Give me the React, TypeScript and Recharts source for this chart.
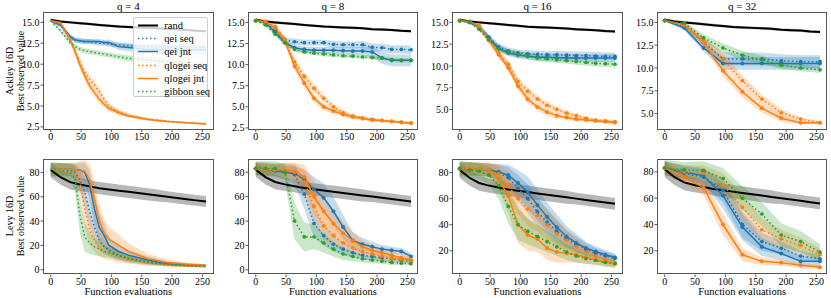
import { ComposedChart, Line, Area, XAxis, YAxis } from "recharts";

const FONT = '"Liberation Serif", "DejaVu Serif", serif';

const NAMES = ["rand", "qei seq", "qei jnt", "qlogei seq", "qlogei jnt", "gibbon seq"];
const COLORS = ["#000000", "#1f77b4", "#1f77b4", "#ff7f0e", "#ff7f0e", "#2ca02c"];
const DOTTED = [false, true, false, true, false, true];

const X4 = [0, 16, 32, 40, 48, 56, 64, 72, 80, 88, 96, 112, 128, 160, 192, 224, 256];
const X16 = [0, 16, 32, 48, 64, 80, 96, 112, 128, 144, 160, 176, 192, 208, 224, 240, 256];
const X32 = [0, 32, 64, 96, 128, 160, 192, 224, 256];
const X_TICKS = [0, 50, 100, 150, 200, 250];
const ACK_TICKS_A = [2.5, 5, 7.5, 10, 12.5, 15];
const ACK_TICKS_B = [5, 7.5, 10, 12.5, 15];
const LEVY_TICKS_A = [0, 20, 40, 60, 80];
const LEVY_TICKS_B = [20, 40, 60, 80];

// random search baseline (same in every column)
const ackRand = [15.3, 15.1, 15.0, 14.9, 14.8, 14.7, 14.6, 14.5, 14.45, 14.4, 14.35, 14.3, 14.2, 14.15, 14.1, 14.0, 13.95];
const ackRandSd = [0.15, 0.15, 0.15, 0.15, 0.15, 0.15, 0.15, 0.15, 0.15, 0.15, 0.15, 0.15, 0.15, 0.15, 0.15, 0.15, 0.15];
const levyRand = [82, 76, 72, 70, 68.5, 67, 66, 65, 64, 63, 62, 61, 60, 59, 58, 57, 56];
const levyRandSd = [6, 6, 6, 5.5, 5, 5, 5, 5, 5, 5, 5, 5, 4.5, 4.5, 4.5, 4.5, 4.5];

// Ackley q=4 (X4)
const a4QeiSeq = [15.2, 14.6, 13.2, 12.9, 12.8, 12.7, 12.7, 12.6, 12.5, 12.5, 12.4, 12.3, 12.2, 12.1, 12.1, 12.1, 12.0];
const a4QeiSeqSd = [0.15, 0.2, 0.3, 0.3, 0.3, 0.3, 0.3, 0.3, 0.3, 0.3, 0.3, 0.3, 0.3, 0.3, 0.3, 0.3, 0.3];
const a4QeiJnt = [15.2, 14.7, 13.3, 12.9, 12.8, 12.7, 12.7, 12.7, 12.7, 12.6, 12.6, 12.1, 12.0, 11.8, 11.7, 11.7, 11.7];
const a4QeiJntSd = [0.15, 0.2, 0.3, 0.3, 0.3, 0.3, 0.3, 0.3, 0.3, 0.3, 0.35, 0.4, 0.45, 0.5, 0.5, 0.5, 0.5];
const a4QlogeiSeq = [15.2, 14.8, 12.8, 11.6, 10.3, 9.0, 8.2, 7.5, 6.7, 5.8, 5.0, 4.3, 3.9, 3.45, 3.2, 3.0, 2.9];
const a4QlogeiSeqSd = [0.1, 0.2, 0.3, 0.4, 0.45, 0.5, 0.5, 0.5, 0.5, 0.4, 0.35, 0.3, 0.2, 0.15, 0.1, 0.1, 0.1];
const a4QlogeiJnt = [15.2, 15.0, 13.0, 11.5, 9.9, 8.6, 7.4, 6.6, 5.8, 5.2, 4.7, 4.2, 3.8, 3.4, 3.15, 3.0, 2.85];
const a4QlogeiJntSd = [0.1, 0.2, 0.3, 0.4, 0.45, 0.5, 0.5, 0.5, 0.5, 0.4, 0.35, 0.3, 0.2, 0.15, 0.1, 0.1, 0.1];
const a4Gibbon = [15.2, 14.0, 12.6, 12.1, 11.8, 11.6, 11.5, 11.4, 11.3, 11.2, 11.1, 10.9, 10.7, 10.5, 10.3, 10.0, 9.8];
const a4GibbonSd = [0.1, 0.2, 0.3, 0.3, 0.3, 0.3, 0.3, 0.3, 0.3, 0.3, 0.3, 0.3, 0.35, 0.35, 0.4, 0.4, 0.4];

// Ackley q=8 (X16)
const a8QeiSeq = [15.2, 15.0, 14.0, 12.9, 12.7, 12.6, 12.6, 12.6, 12.4, 12.35, 12.35, 12.35, 12.05, 12.0, 11.8, 11.8, 11.75];
const a8QeiSeqSd = [0.1, 0.15, 0.3, 0.35, 0.35, 0.35, 0.35, 0.35, 0.4, 0.4, 0.4, 0.45, 0.45, 0.5, 0.5, 0.5, 0.5];
const a8QeiJnt = [15.2, 15.0, 13.8, 12.6, 12.0, 11.8, 11.7, 11.7, 11.7, 11.65, 11.6, 11.6, 11.5, 10.8, 10.5, 10.5, 10.5];
const a8QeiJntSd = [0.1, 0.15, 0.3, 0.35, 0.35, 0.35, 0.4, 0.4, 0.4, 0.4, 0.45, 0.5, 0.6, 0.7, 0.7, 0.7, 0.7];
const a8QlogeiSeq = [15.2, 15.1, 14.5, 13.0, 10.3, 8.6, 7.2, 6.0, 5.0, 4.3, 3.9, 3.7, 3.5, 3.4, 3.3, 3.2, 3.1];
const a8QlogeiSeqSd = [0.1, 0.15, 0.3, 0.4, 0.5, 0.5, 0.5, 0.4, 0.35, 0.3, 0.25, 0.2, 0.2, 0.15, 0.15, 0.15, 0.15];
const a8QlogeiJnt = [15.2, 15.1, 14.3, 12.8, 9.8, 7.8, 6.0, 5.0, 4.5, 4.1, 3.8, 3.6, 3.45, 3.35, 3.25, 3.15, 3.05];
const a8QlogeiJntSd = [0.1, 0.15, 0.3, 0.4, 0.5, 0.5, 0.5, 0.4, 0.35, 0.3, 0.25, 0.2, 0.2, 0.15, 0.15, 0.15, 0.15];
const a8Gibbon = [15.2, 14.7, 13.6, 12.6, 11.8, 11.5, 11.35, 11.25, 11.15, 11.05, 11.0, 10.9, 10.85, 10.75, 10.6, 10.5, 10.5];
const a8GibbonSd = [0.1, 0.2, 0.25, 0.25, 0.25, 0.25, 0.25, 0.25, 0.25, 0.25, 0.25, 0.25, 0.25, 0.25, 0.25, 0.25, 0.25];

// Ackley q=16 (X16)
const a16QeiSeq = [15.2, 15.0, 14.5, 13.3, 12.2, 11.7, 11.5, 11.4, 11.35, 11.3, 11.3, 11.25, 11.2, 11.2, 11.15, 11.1, 11.1];
const a16QeiSeqSd = [0.1, 0.15, 0.25, 0.35, 0.4, 0.4, 0.4, 0.4, 0.4, 0.4, 0.45, 0.45, 0.45, 0.45, 0.45, 0.45, 0.45];
const a16QeiJnt = [15.2, 15.0, 14.5, 13.2, 12.0, 11.5, 11.25, 11.1, 11.0, 11.0, 10.95, 10.95, 10.9, 10.9, 10.9, 10.9, 10.9];
const a16QeiJntSd = [0.1, 0.15, 0.25, 0.35, 0.4, 0.4, 0.4, 0.4, 0.4, 0.4, 0.45, 0.45, 0.45, 0.45, 0.45, 0.45, 0.45];
const a16QlogeiSeq = [15.2, 15.1, 14.4, 12.9, 11.5, 10.2, 8.2, 7.1, 6.2, 5.5, 5.0, 4.6, 4.3, 4.0, 3.8, 3.7, 3.6];
const a16QlogeiSeqSd = [0.1, 0.15, 0.25, 0.35, 0.4, 0.45, 0.5, 0.5, 0.45, 0.4, 0.35, 0.3, 0.25, 0.2, 0.2, 0.2, 0.2];
const a16QlogeiJnt = [15.2, 15.1, 14.6, 13.0, 11.3, 9.8, 7.7, 6.2, 5.3, 4.7, 4.3, 4.1, 3.9, 3.8, 3.7, 3.6, 3.5];
const a16QlogeiJntSd = [0.1, 0.15, 0.25, 0.35, 0.4, 0.45, 0.5, 0.5, 0.45, 0.4, 0.35, 0.3, 0.25, 0.2, 0.2, 0.2, 0.2];
const a16Gibbon = [15.2, 15.1, 14.2, 13.0, 12.0, 11.6, 11.3, 11.2, 10.9, 10.8, 10.7, 10.6, 10.5, 10.4, 10.3, 10.25, 10.2];
const a16GibbonSd = [0.1, 0.15, 0.25, 0.3, 0.35, 0.35, 0.35, 0.35, 0.35, 0.35, 0.35, 0.35, 0.35, 0.35, 0.35, 0.35, 0.35];

// Ackley q=32 (X32)
const a32QeiSeq = [15.2, 14.6, 12.8, 11.0, 11.0, 11.0, 10.8, 10.7, 10.7];
const a32QeiSeqSd = [0.1, 0.25, 0.4, 0.7, 0.7, 0.7, 0.7, 0.7, 0.7];
const a32QeiJnt = [15.2, 14.4, 12.2, 10.5, 10.5, 10.5, 10.5, 10.5, 10.5];
const a32QeiJntSd = [0.1, 0.25, 0.4, 0.7, 0.7, 0.7, 0.7, 0.7, 0.7];
const a32QlogeiSeq = [15.2, 14.9, 13.0, 11.0, 8.6, 6.6, 5.1, 4.4, 4.0];
const a32QlogeiSeqSd = [0.1, 0.2, 0.4, 0.6, 0.6, 0.5, 0.4, 0.2, 0.15];
const a32QlogeiJnt = [15.2, 14.7, 12.8, 9.7, 7.4, 5.6, 4.5, 4.0, 4.0];
const a32QlogeiJntSd = [0.1, 0.2, 0.4, 0.6, 0.6, 0.5, 0.4, 0.2, 0.15];
const a32Gibbon = [15.2, 14.9, 13.3, 12.2, 11.4, 10.9, 10.3, 10.0, 9.8];
const a32GibbonSd = [0.1, 0.2, 0.4, 0.5, 0.5, 0.45, 0.4, 0.35, 0.35];

// Levy q=4 (X4)
const l4QeiSeq = [82.5, 82.5, 82, 80, 74, 64, 48, 35, 24, 19, 16, 12, 9.5, 6.5, 4.5, 3.5, 3];
const l4QeiSeqSd = [5, 5, 5, 6, 9, 12, 13, 11, 8, 6, 5, 4, 3, 2, 1.5, 1, 1];
const l4QeiJnt = [82.5, 82.5, 82.5, 82, 82, 80, 70, 50, 35, 28, 20, 15, 12, 8, 5, 4, 3.5];
const l4QeiJntSd = [5, 5, 5, 5, 6, 8, 12, 14, 12, 10, 7, 5, 4, 3, 2, 1.5, 1];
const l4QlogeiSeq = [82.5, 82.5, 82.5, 82, 72, 50, 33, 24, 18, 15, 13, 10, 8, 5.5, 4, 3, 2.5];
const l4QlogeiSeqSd = [5, 5, 5, 6, 10, 14, 12, 9, 7, 6, 5, 4, 3, 2, 1.5, 1, 1];
const l4QlogeiJnt = [82.5, 82.5, 82.5, 82, 82, 81, 74, 58, 40, 30, 25, 20, 15, 9, 6, 4.5, 3.5];
const l4QlogeiJntSd = [5, 5, 5, 6, 7, 9, 13, 15, 14, 12, 10, 9, 7, 4, 2.5, 1.5, 1];
const l4Gibbon = [82.5, 82, 80, 75, 45, 27, 22, 19, 17, 15, 14, 11.5, 9, 6, 4.5, 3.5, 3];
const l4GibbonSd = [6, 6, 7, 10, 15, 12, 9, 7, 6, 5, 4, 3.5, 3, 2, 1.5, 1, 1];

// Levy q=8 (X16)
const l8QeiSeq = [83, 83, 82, 81, 78, 62, 38, 28, 21, 17, 14, 12, 11, 10, 9, 8, 7];
const l8QeiSeqSd = [5, 5, 5, 6, 8, 12, 12, 8, 6, 5, 4, 3.5, 3, 3, 2.5, 2, 2];
const l8QeiJnt = [83, 82, 81, 80, 79, 74, 66, 59, 48, 35, 24, 21, 19, 17, 16, 15, 11];
const l8QeiJntSd = [5, 5, 5, 5, 6, 8, 10, 12, 12, 10, 7, 5, 4, 3.5, 3, 3, 3];
const l8QlogeiSeq = [83, 83, 82, 81, 80, 72, 52, 36, 28, 22, 18, 15, 13, 11, 9.5, 8.5, 7.5];
const l8QlogeiSeqSd = [5, 5, 5, 6, 7, 10, 14, 11, 8, 6, 5, 4, 3.5, 3, 2.5, 2, 2];
const l8QlogeiJnt = [83, 82, 82, 82, 81, 76, 60, 48, 38, 30, 24, 19, 16, 14, 12, 10, 8];
const l8QlogeiJntSd = [5, 5, 5, 6, 7, 10, 13, 13, 11, 9, 7, 5, 4, 3.5, 3, 2.5, 2];
const l8Gibbon = [83, 83, 83, 80, 40, 27, 27, 22, 17, 13, 11, 9, 8, 7, 6, 5.5, 5];
const l8GibbonSd = [6, 6, 6, 7, 15, 12, 10, 8, 6, 5, 4, 3, 2.5, 2, 2, 1.5, 1.5];

// Levy q=16 (X16)
const l16QeiSeq = [83, 83, 82.5, 82, 80, 76, 68, 60, 50, 42, 35, 29, 25, 21, 18, 16, 14];
const l16QeiSeqSd = [5, 5, 5, 5, 6, 8, 10, 11, 11, 10, 9, 7, 6, 5, 4, 3.5, 3];
const l16QeiJnt = [83, 83, 82.5, 82, 80.5, 78, 72, 65, 55, 46, 38, 31, 26, 22, 19.5, 17, 15];
const l16QeiJntSd = [5, 5, 5, 5, 6, 8, 10, 12, 12, 11, 10, 8, 7, 5, 4, 3.5, 3];
const l16QlogeiSeq = [83, 83, 82.5, 82, 79, 70, 60, 52, 47, 40, 33, 28, 23, 19, 16, 13, 11];
const l16QlogeiSeqSd = [5, 5, 5, 5, 7, 10, 12, 13, 12, 11, 10, 8, 6, 5, 4, 3.5, 3];
const l16QlogeiJnt = [83, 83, 82.5, 82, 75, 62, 40, 32, 29, 22, 19, 18, 17, 15, 13, 11.5, 10];
const l16QlogeiJntSd = [5, 5, 5, 6, 9, 13, 14, 12, 10, 9, 8, 7, 6, 5, 4, 3.5, 3];
const l16Gibbon = [83, 82, 81, 78, 70, 54, 40, 35, 31, 27, 23, 19, 16, 14, 12.5, 11, 10];
const l16GibbonSd = [6, 6, 6, 7, 10, 13, 12, 10, 9, 8, 7, 6, 5, 4, 3.5, 3, 3];

// Levy q=32 (X32)
const l32QeiSeq = [83, 79, 76, 66, 40, 27, 22, 16, 14];
const l32QeiSeqSd = [5, 5, 6, 9, 10, 7, 5, 4, 3];
const l32QeiJnt = [83, 80, 77, 62, 38, 23, 18, 12, 12];
const l32QeiJntSd = [5, 5, 6, 10, 10, 7, 5, 4, 3.5];
const l32QlogeiSeq = [83, 80, 79, 70, 53, 36, 29, 24, 17];
const l32QlogeiSeqSd = [5, 5, 6, 9, 10, 9, 7, 6, 5];
const l32QlogeiJnt = [83, 76, 68, 40, 17, 12, 11, 9, 7.5];
const l32QlogeiJntSd = [5, 5, 6, 8, 5, 3, 2.5, 2, 2];
const l32Gibbon = [83, 81.5, 81, 75, 60, 48, 32, 27, 19];
const l32GibbonSd = [6, 6, 7, 8, 9, 9, 9, 8, 6];

const COL_LEFT = [42.9, 247.5, 452.1, 656.7];
const COL_W = 170.8;
const ROW_TOP = [12.4, 158.5];
const ROW_H = [117.6, 115.5];
const YW = 36;
const XH = 14;

type PanelDef = {
  title: string;
  row: number;
  col: number;
  xs: number[];
  yDomain: [number, number];
  yTicks: number[];
  dots: boolean;
  means: number[][];
  sds: number[][];
};

const PANELS: PanelDef[] = [
  { title: "q = 4", row: 0, col: 0, xs: X4, yDomain: [2.18, 16.24], yTicks: ACK_TICKS_A, dots: false,
    means: [a4QeiSeq, a4QeiJnt, a4QlogeiSeq, a4QlogeiJnt, a4Gibbon], sds: [a4QeiSeqSd, a4QeiJntSd, a4QlogeiSeqSd, a4QlogeiJntSd, a4GibbonSd] },
  { title: "q = 8", row: 0, col: 1, xs: X16, yDomain: [2.3, 16.23], yTicks: ACK_TICKS_A, dots: true,
    means: [a8QeiSeq, a8QeiJnt, a8QlogeiSeq, a8QlogeiJnt, a8Gibbon], sds: [a8QeiSeqSd, a8QeiJntSd, a8QlogeiSeqSd, a8QlogeiJntSd, a8GibbonSd] },
  { title: "q = 16", row: 0, col: 2, xs: X16, yDomain: [2.7, 16.19], yTicks: ACK_TICKS_B, dots: true,
    means: [a16QeiSeq, a16QeiJnt, a16QlogeiSeq, a16QlogeiJnt, a16Gibbon], sds: [a16QeiSeqSd, a16QeiJntSd, a16QlogeiSeqSd, a16QlogeiJntSd, a16GibbonSd] },
  { title: "q = 32", row: 0, col: 3, xs: X32, yDomain: [3.25, 16.14], yTicks: ACK_TICKS_B, dots: true,
    means: [a32QeiSeq, a32QeiJnt, a32QlogeiSeq, a32QlogeiJnt, a32Gibbon], sds: [a32QeiSeqSd, a32QeiJntSd, a32QlogeiSeqSd, a32QlogeiJntSd, a32GibbonSd] },
  { title: "", row: 1, col: 0, xs: X4, yDomain: [-3.9, 91], yTicks: LEVY_TICKS_A, dots: false,
    means: [l4QeiSeq, l4QeiJnt, l4QlogeiSeq, l4QlogeiJnt, l4Gibbon], sds: [l4QeiSeqSd, l4QeiJntSd, l4QlogeiSeqSd, l4QlogeiJntSd, l4GibbonSd] },
  { title: "", row: 1, col: 1, xs: X16, yDomain: [-3.8, 90.8], yTicks: LEVY_TICKS_A, dots: true,
    means: [l8QeiSeq, l8QeiJnt, l8QlogeiSeq, l8QlogeiJnt, l8Gibbon], sds: [l8QeiSeqSd, l8QeiJntSd, l8QlogeiSeqSd, l8QlogeiJntSd, l8GibbonSd] },
  { title: "", row: 1, col: 2, xs: X16, yDomain: [1.8, 90.4], yTicks: LEVY_TICKS_B, dots: true,
    means: [l16QeiSeq, l16QeiJnt, l16QlogeiSeq, l16QlogeiJnt, l16Gibbon], sds: [l16QeiSeqSd, l16QeiJntSd, l16QlogeiSeqSd, l16QlogeiJntSd, l16GibbonSd] },
  { title: "", row: 1, col: 3, xs: X32, yDomain: [2, 89.8], yTicks: LEVY_TICKS_B, dots: true,
    means: [l32QeiSeq, l32QeiJnt, l32QlogeiSeq, l32QlogeiJnt, l32Gibbon], sds: [l32QeiSeqSd, l32QeiJntSd, l32QlogeiSeqSd, l32QlogeiJntSd, l32GibbonSd] },
];

function toRows(xs: number[], mean: number[], sd: number[]) {
  return xs.map((x, i) => ({ x, y: mean[i], band: [mean[i] - sd[i], mean[i] + sd[i]] }));
}

function Panel({ p }: { p: PanelDef }) {
  const left = COL_LEFT[p.col];
  const top = ROW_TOP[p.row];
  const h = ROW_H[p.row];
  const rand = p.row === 0 ? toRows(X16, ackRand, ackRandSd) : toRows(X16, levyRand, levyRandSd);
  const series = [rand, ...p.means.map((m, i) => toRows(p.xs, m, p.sds[i]))];
  const tickStyle = { fontSize: 10, fill: "#000", fontFamily: FONT };
  return (
    <>
      <div style={{ position: "absolute", left: left - YW, top: top }}>
        <ComposedChart width={YW + COL_W} height={h + XH} margin={{ top: 0, right: 0, bottom: 0, left: 0 }}>
          <XAxis
            dataKey="x"
            type="number"
            domain={[-12.8, 268.8]}
            ticks={X_TICKS}
            height={XH}
            tick={tickStyle}
            tickSize={2.5}
            tickMargin={0.5}
            axisLine={false}
            tickLine={{ stroke: "#555" }}
            allowDataOverflow
          />
          <YAxis
            type="number"
            domain={p.yDomain}
            ticks={p.yTicks}
            width={YW}
            tick={tickStyle}
            tickSize={2.5}
            tickMargin={1}
            axisLine={false}
            tickLine={{ stroke: "#555" }}
            tickFormatter={(v: number) => (p.row === 0 ? v.toFixed(1) : String(v))}
            allowDataOverflow
          />
          {series.map((d, i) => (
            <Area
              key={"a" + i}
              data={d}
              dataKey="band"
              type="linear"
              stroke="none"
              fill={COLORS[i]}
              fillOpacity={i === 0 ? 0.28 : 0.25}
              isAnimationActive={false}
            />
          ))}
          {series.map((d, i) => (
            <Line
              key={"l" + i}
              data={d}
              dataKey="y"
              type="linear"
              stroke={COLORS[i]}
              strokeWidth={i === 0 ? 2 : 1.5}
              strokeDasharray={DOTTED[i] ? "1.5 2.5" : undefined}
              dot={p.dots && i > 0 ? { r: 1.8, fill: COLORS[i], stroke: COLORS[i], strokeWidth: 0.4 } : false}
              activeDot={false}
              isAnimationActive={false}
            />
          ))}
        </ComposedChart>
      </div>
      <div
        style={{
          position: "absolute",
          left,
          top,
          width: COL_W,
          height: h,
          border: "1px solid #555",
          boxSizing: "border-box",
          pointerEvents: "none",
        }}
      />
      {p.title && (
        <div style={{ position: "absolute", left, top: 0, width: COL_W, textAlign: "center", fontSize: 11, lineHeight: "12px" }}>
          {p.title}
        </div>
      )}
      {p.row === 1 && (
        <div style={{ position: "absolute", left, top: 286.5, width: COL_W, textAlign: "center", fontSize: 10.5, lineHeight: "10px" }}>
          Function evaluations
        </div>
      )}
    </>
  );
}

function YLabel({ row, lines }: { row: number; lines: string[] }) {
  const cy = ROW_TOP[row] + ROW_H[row] / 2;
  return (
    <div
      style={{
        position: "absolute",
        left: 15 - 70,
        top: cy - 11,
        width: 140,
        height: 22,
        transform: "rotate(-90deg)",
        textAlign: "center",
        fontSize: 10,
        lineHeight: "11px",
      }}
    >
      {lines.map((l) => (
        <div key={l}>{l}</div>
      ))}
    </div>
  );
}

function LegendBox() {
  return (
    <div
      style={{
        position: "absolute",
        left: 133.3,
        top: 17.3,
        width: 75,
        height: 80,
        border: "1px solid #ccc",
        borderRadius: 2,
        background: "rgba(255,255,255,0.8)",
        boxSizing: "border-box",
        fontSize: 10.5,
      }}
    >
      {NAMES.map((n, i) => (
        <div key={n} style={{ position: "absolute", left: 0, top: 0.5 + i * 13.3, height: 13, width: 75 }}>
          <svg width={22} height={13} style={{ position: "absolute", left: 3, top: 0 }}>
            <line
              x1={1}
              x2={21}
              y1={6.5}
              y2={6.5}
              stroke={COLORS[i]}
              strokeWidth={i === 0 ? 2 : 1.5}
              strokeDasharray={DOTTED[i] ? "1.5 2.5" : undefined}
            />
          </svg>
          <span style={{ position: "absolute", left: 30, top: 0, lineHeight: "13px", whiteSpace: "nowrap" }}>{n}</span>
        </div>
      ))}
    </div>
  );
}

export default function App() {
  return (
    <div
      style={{
        position: "fixed",
        left: 0,
        top: 0,
        width: 831,
        height: 298,
        background: "#fff",
        fontFamily: FONT,
        color: "#000",
        overflow: "hidden",
      }}
    >
      <style>{`.recharts-text { font-family: ${FONT} !important; }`}</style>
      {PANELS.map((p, i) => (
        <Panel key={i} p={p} />
      ))}
      <YLabel row={0} lines={["Ackley 16D", "Best observed value"]} />
      <YLabel row={1} lines={["Levy 16D", "Best observed value"]} />
      <LegendBox />
    </div>
  );
}
